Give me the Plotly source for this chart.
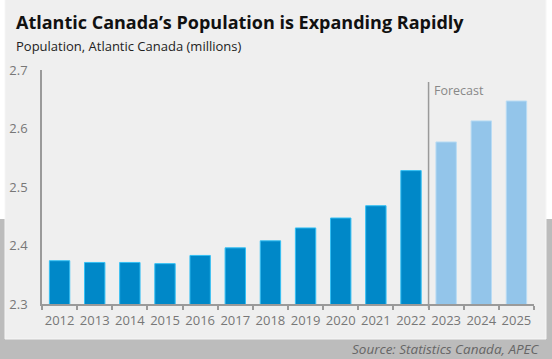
import plotly.graph_objects as go

years = ["2012", "2013", "2014", "2015", "2016", "2017", "2018", "2019",
         "2020", "2021", "2022", "2023", "2024", "2025"]
population = [2.374, 2.371, 2.371, 2.369, 2.383, 2.396, 2.408, 2.430,
              2.447, 2.468, 2.528, 2.577, 2.613, 2.647]
is_forecast = [False] * 11 + [True] * 3
y_ticks = [2.3, 2.4, 2.5, 2.6, 2.7]

W, H = 552, 359
L, R, T, B = 42, 534, 70, 304


def px(x):
    return (x - L) / (R - L)


def py(y):
    return (B - y) / (B - T)


colors = ["#93c5ea" if f else "#0088c8" for f in is_forecast]
edges = ["#b9dcf4" if f else "#34c0f4" for f in is_forecast]

fig = go.Figure()
fig.add_trace(go.Bar(
    x=years, y=population, width=0.58,
    marker=dict(color=colors, line=dict(color=edges, width=1)),
    hoverinfo="x+y",
))

font = "Open Sans, DejaVu Sans, sans-serif"

shapes = [
    dict(type="rect", xref="paper", yref="paper", layer="below",
         x0=px(-20), x1=px(W + 20), y0=py(H + 20), y1=py(219),
         fillcolor="#bcbcbc", line=dict(width=0)),
    dict(type="rect", xref="paper", yref="paper", layer="below",
         x0=px(5), x1=px(546), y0=py(339), y1=py(-5),
         fillcolor="#efefef", line=dict(color="#f6f6f6", width=1)),
    dict(type="line", xref="x", yref="paper",
         x0=10.5, x1=10.5, y0=py(308), y1=py(82),
         line=dict(color="#9a9a9a", width=1.5)),
]

annotations = [
    dict(text="<b>Atlantic Canada’s Population is Expanding Rapidly</b>",
         xref="paper", yref="paper", x=px(14), y=py(22), xanchor="left",
         yanchor="middle", showarrow=False,
         font=dict(family=font, size=18, color="#111111")),
    dict(text="Population, Atlantic Canada (millions)",
         xref="paper", yref="paper", x=px(14), y=py(46), xanchor="left",
         yanchor="middle", showarrow=False,
         font=dict(family=font, size=13, color="#222222")),
    dict(text="Forecast",
         xref="paper", yref="paper", x=px(432), y=py(90), xanchor="left",
         yanchor="middle", showarrow=False,
         font=dict(family=font, size=12.5, color="#888888")),
    dict(text="<i>Source: Statistics Canada, APEC</i>",
         xref="paper", yref="paper", x=px(542), y=py(349), xanchor="right",
         yanchor="middle", showarrow=False,
         font=dict(family=font, size=13.5, color="#666666")),
]

fig.update_layout(
    width=W, height=H,
    margin=dict(l=L, r=W - R, t=T, b=H - B, pad=0),
    paper_bgcolor="#ffffff", plot_bgcolor="rgba(0,0,0,0)",
    showlegend=False, shapes=shapes, annotations=annotations,
    font=dict(family=font, size=13, color="#777777"),
    xaxis=dict(type="category", range=[-0.5, 13.5], showgrid=False,
               showline=True, linecolor="#9a9a9a", linewidth=1.5,
               ticks="outside", tickson="boundaries", ticklen=4,
               tickcolor="#9a9a9a", tickwidth=1.5, tickangle=0,
               ticklabelstandoff=4, automargin=False,
               tickfont=dict(family=font, size=13, color="#777777")),
    yaxis=dict(range=[2.3, 2.7], tickvals=y_ticks, tickformat=".1f",
               showgrid=False, zeroline=False, showline=True,
               linecolor="#9a9a9a", linewidth=1.5, ticks="",
               ticklabelstandoff=10, automargin=False,
               tickfont=dict(family=font, size=13, color="#777777")),
)

fig.write_html(
    "out.html",
    config={"displayModeBar": False},
    post_script="document.body.style.margin='0';"
                "document.body.style.overflow='hidden';",
)
